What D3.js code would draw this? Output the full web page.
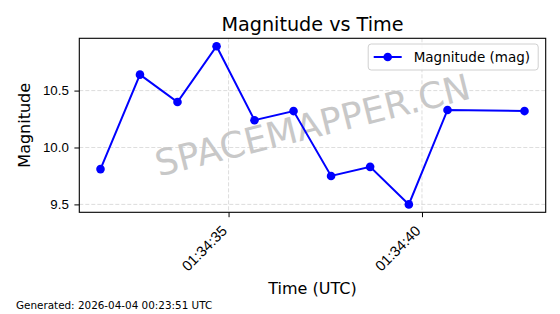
<!DOCTYPE html>
<html>
<head>
<meta charset="utf-8">
<script src="https://cdn.jsdelivr.net/npm/d3@7"></script>
<style>
  body { margin: 0; background: #fff; }
  svg { display: block; font-family: "DejaVu Sans", sans-serif; }
</style>
</head>
<body>
<svg id="chart" width="560" height="314"></svg>
<script>
const times = ["01:34:31.69", "01:34:32.71", "01:34:33.68", "01:34:34.69", "01:34:35.67",
               "01:34:36.68", "01:34:37.65", "01:34:38.66", "01:34:39.66", "01:34:40.66", "01:34:42.65"];
const magnitudes = [9.81, 10.64, 10.40, 10.89, 10.24, 10.32, 9.75, 9.83, 9.50, 10.33, 10.32];

const xTickLabels = ["01:34:35", "01:34:40"];
const yTicks = [9.5, 10.0, 10.5];

const day = "2026-04-04T";
const parse = s => new Date(day + s + "Z");
const data = times.map((t, i) => ({ t: parse(t), m: magnitudes[i] }));

const margin = { top: 38.3, right: 14.3, bottom: 101.7, left: 79.3 };
const width = 560 - margin.left - margin.right;
const height = 314 - margin.top - margin.bottom;

const svg = d3.select("#chart");

// matplotlib style 5% padding
function padded(ext) {
  const d = ext[1] - ext[0];
  return [ext[0] - d * 0.05, ext[1] + d * 0.05];
}
const tExt = d3.extent(data, d => +d.t);
const x = d3.scaleUtc().domain(padded(tExt).map(v => new Date(v))).range([0, width]);
const y = d3.scaleLinear().domain(padded(d3.extent(magnitudes))).range([height, 0]);

const g = svg.append("g").attr("transform", `translate(${margin.left},${margin.top})`);

const xTicks = xTickLabels.map(parse);

// grid
g.append("g").selectAll("line").data(xTicks).enter().append("line")
  .attr("x1", d => x(d)).attr("x2", d => x(d))
  .attr("y1", 0).attr("y2", height)
  .attr("stroke", "#b0b0b0").attr("stroke-opacity", 0.55)
  .attr("stroke-dasharray", "4,2").attr("stroke-width", 0.8);
g.append("g").selectAll("line").data(yTicks).enter().append("line")
  .attr("x1", 0).attr("x2", width)
  .attr("y1", d => y(d)).attr("y2", d => y(d))
  .attr("stroke", "#b0b0b0").attr("stroke-opacity", 0.55)
  .attr("stroke-dasharray", "4,2").attr("stroke-width", 0.8);

// watermark
g.append("text")
  .attr("transform", `translate(${width / 2},${height / 2}) rotate(-14)`)
  .attr("text-anchor", "middle")
  .attr("dominant-baseline", "central")
  .attr("font-size", 36)
  .attr("fill", "#c8c8c8")
  .text("SPACEMAPPER.CN");

// line + markers
const line = d3.line().x(d => x(d.t)).y(d => y(d.m));
g.append("path").datum(data)
  .attr("fill", "none").attr("stroke", "#0000ff").attr("stroke-width", 2)
  .attr("d", line);
g.selectAll("circle.pt").data(data).enter().append("circle")
  .attr("class", "pt")
  .attr("cx", d => x(d.t)).attr("cy", d => y(d.m)).attr("r", 4.3)
  .attr("fill", "#0000ff");

// axes
const xAxis = d3.axisBottom(x).tickValues(xTicks).tickSize(4.9).tickSizeOuter(0)
  .tickFormat(d3.utcFormat("%H:%M:%S"));
const xg = g.append("g").attr("transform", `translate(0,${height})`).call(xAxis);
xg.select(".domain").remove();
xg.selectAll("line").attr("stroke", "#000").attr("stroke-width", 1);
xg.selectAll("text")
  .attr("font-size", 14.6).attr("fill", "#000")
  .attr("text-anchor", "end")
  .attr("x", null).attr("y", null).attr("dy", null)
  .attr("transform", "translate(-1,19.5) rotate(-45)");

const yAxis = d3.axisLeft(y).tickValues(yTicks).tickSize(4.9).tickSizeOuter(0)
  .tickFormat(d3.format(".1f"));
const yg = g.append("g").call(yAxis);
yg.select(".domain").remove();
yg.selectAll("line").attr("stroke", "#000").attr("stroke-width", 1);
yg.selectAll("text").attr("font-size", 13.3).attr("fill", "#000").attr("x", -10.5);

// frame
g.append("rect").attr("width", width).attr("height", height)
  .attr("fill", "none").attr("stroke", "#000").attr("stroke-width", 1.1);

// legend
const lg = g.append("g").attr("transform", `translate(${width - 177.5},${5.7})`);
lg.append("rect").attr("width", 170).attr("height", 26).attr("rx", 3)
  .attr("fill", "#fff").attr("fill-opacity", 0.8)
  .attr("stroke", "#d0d0d0").attr("stroke-width", 1);
lg.append("line").attr("x1", 5.5).attr("x2", 33.5).attr("y1", 13).attr("y2", 13)
  .attr("stroke", "#0000ff").attr("stroke-width", 2);
lg.append("circle").attr("cx", 19.5).attr("cy", 13).attr("r", 4.3).attr("fill", "#0000ff");
lg.append("text").attr("x", 45.5).attr("y", 18).attr("font-size", 13.5).text("Magnitude (mag)");

// titles
svg.append("text").attr("x", margin.left + width / 2).attr("y", 30.5)
  .attr("text-anchor", "middle").attr("font-size", 19.2).text("Magnitude vs Time");
svg.append("text").attr("x", margin.left + width / 2).attr("y", 294)
  .attr("text-anchor", "middle").attr("font-size", 16).text("Time (UTC)");
svg.append("text").attr("transform", `translate(29.5,${margin.top + height / 2}) rotate(-90)`)
  .attr("text-anchor", "middle").attr("font-size", 16).text("Magnitude");
svg.append("text").attr("x", 16).attr("y", 308.5).attr("font-size", 10.4)
  .text("Generated: 2026-04-04 00:23:51 UTC");
</script>
</body>
</html>
